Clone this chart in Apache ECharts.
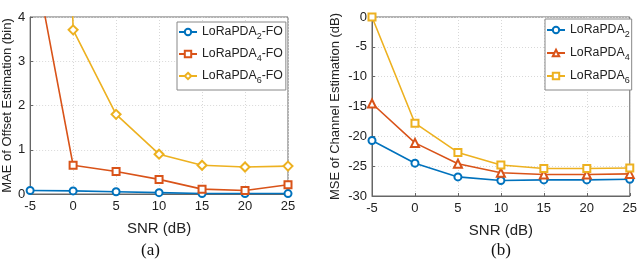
<!DOCTYPE html>
<html><head><meta charset="utf-8">
<script src="https://cdn.jsdelivr.net/npm/echarts@6/dist/echarts.min.js"></script>
<style>html,body{margin:0;padding:0;background:#fff}#c{width:640px;height:263px}</style>
</head><body><div id="c"></div>
<script>
const snr = [-5, 0, 5, 10, 15, 20, 25];
const xTicks = [-5, 0, 5, 10, 15, 20, 25];
// (a) MAE of offset estimation (bin)
const maeFO2 = [0.08, 0.07, 0.05, 0.03, 0.01, 0.01, 0.01];
const maeFO4 = [5.8, 0.65, 0.51, 0.33, 0.11, 0.08, 0.21];
const maeFO6 = [40, 3.71, 1.80, 0.90, 0.65, 0.61, 0.63];
// (b) MSE of channel estimation (dB)
const mse2 = [-20.7, -24.5, -26.8, -27.4, -27.3, -27.3, -27.2];
const mse4 = [-14.5, -21.1, -24.6, -26.1, -26.4, -26.4, -26.3];
const mse6 = [0.0, -17.8, -22.7, -24.8, -25.4, -25.4, -25.3];
const namesA = ['LoRaPDA2-FO', 'LoRaPDA4-FO', 'LoRaPDA6-FO'];
const namesB = ['LoRaPDA2', 'LoRaPDA4', 'LoRaPDA6'];

const C = ['#0072BD', '#D95319', '#EDB120'];
const FONT = 'Liberation Sans, Arial, Helvetica, sans-serif';
const pair = arr => snr.map((x, i) => [x, arr[i]]);

function xAx(gi) {
  return {
    type: 'value', gridIndex: gi, min: -5, max: 25, interval: 5,
    name: 'SNR (dB)', nameLocation: 'middle', nameGap: 27,
    nameTextStyle: {fontFamily: FONT, fontSize: 15, color: '#222'},
    axisLine: {show: true, onZero: false, lineStyle: {color: '#666', width: 1}},
    axisTick: {show: true, inside: true, length: 3, lineStyle: {color: '#666'}},
    axisLabel: {fontFamily: FONT, fontSize: 13, color: '#222', margin: 6},
    splitLine: {show: true, lineStyle: {color: '#d8d8d8', type: [1, 2], width: 1}}
  };
}
function yAx(gi, min, max, itv, name, gap) {
  return {
    type: 'value', gridIndex: gi, min: min, max: max, interval: itv,
    name: name, nameLocation: 'middle', nameGap: gap, nameRotate: 90,
    nameTextStyle: {fontFamily: FONT, fontSize: 13, color: '#222'},
    axisLine: {show: true, onZero: false, lineStyle: {color: '#666', width: 1}},
    axisTick: {show: true, inside: true, length: 3, lineStyle: {color: '#666'}},
    axisLabel: {fontFamily: FONT, fontSize: 13, color: '#222', margin: 5},
    splitLine: {show: true, lineStyle: {color: '#d8d8d8', type: [1, 2], width: 1}}
  };
}
function ser(name, data, ci, sym, size, gi) {
  return {
    name: name, type: 'line', xAxisIndex: gi, yAxisIndex: gi, data: pair(data),
    symbol: sym, symbolSize: size, clip: true,
    lineStyle: {color: C[ci], width: 1.6},
    itemStyle: {color: C[ci], borderColor: C[ci], borderWidth: 1.6},
    emphasis: {disabled: true}, animation: false
  };
}
const subFmt = n => {
  const m = n.match(/^LoRaPDA(\d)(.*)$/);
  return 'LoRaPDA{sub|' + m[1] + '}' + m[2];
};
const legendText = {
  fontFamily: FONT, fontSize: 12.3, color: '#222',
  rich: {sub: {fontFamily: FONT, fontSize: 9, color: '#222', padding: [9, 0, 0, 0]}}
};

const chart = echarts.init(document.getElementById('c'), null, {renderer: 'canvas'});
chart.setOption({
  animation: false,
  backgroundColor: '#fff',
  title: [
    {text: '(a)', left: 136, top: 237, textStyle: {fontFamily: 'Liberation Serif, Times New Roman, serif', fontSize: 17, fontWeight: 'normal', color: '#111'}},
    {text: '(b)', left: 486, top: 237, textStyle: {fontFamily: 'Liberation Serif, Times New Roman, serif', fontSize: 17, fontWeight: 'normal', color: '#111'}}
  ],
  grid: [
    {left: 28, right: 352, top: 17, bottom: 69, show: true, borderColor: '#666', borderWidth: 1, backgroundColor: 'transparent'},
    {left: 372, right: 9, top: 17, bottom: 67, show: true, borderColor: '#666', borderWidth: 1, backgroundColor: 'transparent'}
  ],
  xAxis: [xAx(0), xAx(1)],
  yAxis: [
    yAx(0, 0, 4, 1, 'MAE of Offset Estimation (bin)', 14),
    yAx(1, -30, 0, 5, 'MSE of Channel Estimation (dB)', 30)
  ],
  legend: [
    {data: namesA, left: 177, top: 22, orient: 'vertical', itemGap: 7, itemWidth: 18, itemHeight: 8,
     padding: [4, 3, 5, 1], borderColor: '#888', borderWidth: 1, backgroundColor: '#fff',
     formatter: subFmt, textStyle: legendText},
    {data: namesB, left: 545, top: 19, orient: 'vertical', itemGap: 8, itemWidth: 18, itemHeight: 8,
     padding: [5, 2, 5, 1], borderColor: '#888', borderWidth: 1, backgroundColor: '#fff',
     formatter: subFmt, textStyle: legendText}
  ],
  series: [
    ser(namesA[0], maeFO2, 0, 'emptyCircle', 7, 0),
    ser(namesA[1], maeFO4, 1, 'emptyRect', 7, 0),
    ser(namesA[2], maeFO6, 2, 'emptyDiamond', 9, 0),
    ser(namesB[0], mse2, 0, 'emptyCircle', 7, 1),
    ser(namesB[1], mse4, 1, 'emptyTriangle', 8, 1),
    ser(namesB[2], mse6, 2, 'emptyRect', 7, 1)
  ]
});
</script></body></html>
